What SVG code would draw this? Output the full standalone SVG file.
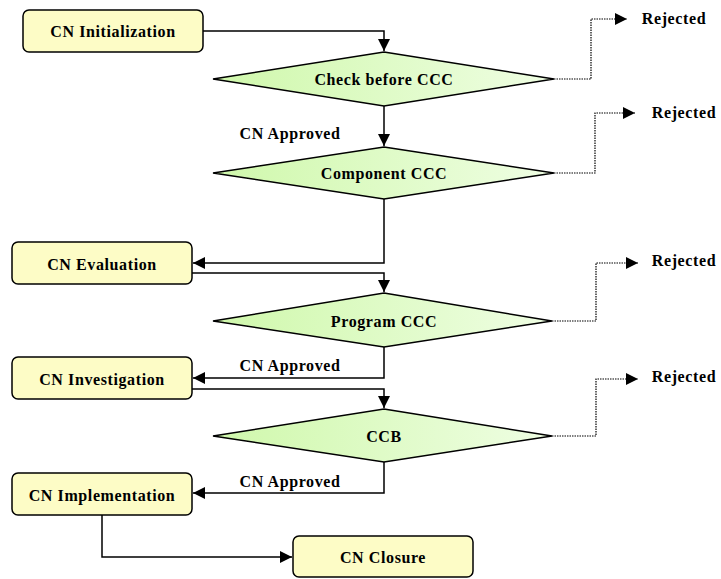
<svg xmlns="http://www.w3.org/2000/svg" width="721" height="579" viewBox="0 0 721 579">
<style>
.box{fill:#fdfcc6;stroke:#000;stroke-width:1.5}
.dia{fill:url(#g);stroke:#000;stroke-width:1.5}
.t{font-family:"Liberation Serif","Times New Roman",serif;font-weight:bold;font-size:16px;letter-spacing:0.6px;text-anchor:middle;dominant-baseline:central;fill:#000}
.ln{fill:none;stroke:#000;stroke-width:1.5}
.dot{fill:none;stroke:#000;stroke-width:1.2;stroke-dasharray:1.5 1}
</style>
<defs>
<linearGradient id="g" x1="0" y1="0" x2="1" y2="0">
<stop offset="0" stop-color="#cff8ab"/>
<stop offset="1" stop-color="#effee3"/>
</linearGradient>
<marker id="a" viewBox="0 0 10 10" refX="10" refY="5" markerWidth="12" markerHeight="12" markerUnits="userSpaceOnUse" orient="auto">
<path d="M0,0L10,5L0,10z" fill="#000"/>
</marker>
</defs>
<g id="connectors">
<path class="ln" d="M203,31H384V51" marker-end="url(#a)"/>
<path class="ln" d="M384,106V146" marker-end="url(#a)"/>
<path class="ln" d="M384,199V263H193" marker-end="url(#a)"/>
<path class="ln" d="M192,273H384V292" marker-end="url(#a)"/>
<path class="ln" d="M384,346V378H193" marker-end="url(#a)"/>
<path class="ln" d="M192,389H384V408" marker-end="url(#a)"/>
<path class="ln" d="M384,462V493H193" marker-end="url(#a)"/>
<path class="ln" d="M102,515V557H292" marker-end="url(#a)"/>
<path class="dot" d="M554,79H591V19H627" marker-end="url(#a)"/>
<path class="dot" d="M554,173H595V113H635" marker-end="url(#a)"/>
<path class="dot" d="M552,321H596V263H638" marker-end="url(#a)"/>
<path class="dot" d="M552,436H596V379H638" marker-end="url(#a)"/>
<text class="t" x="290" y="133">CN Approved</text>
<text class="t" x="290" y="365">CN Approved</text>
<text class="t" x="290" y="481">CN Approved</text>
<text class="t" x="674" y="18">Rejected</text>
<text class="t" x="684" y="112">Rejected</text>
<text class="t" x="684" y="260">Rejected</text>
<text class="t" x="684" y="376">Rejected</text>
</g>
<g id="n1"><rect class="box" x="23" y="10" width="180" height="42" rx="6"/><text class="t" x="113" y="31">CN Initialization</text></g>
<g id="n2"><polygon class="dia" points="384,52 554,79 384,106 213,79"/><text class="t" x="384" y="79">Check before CCC</text></g>
<g id="n3"><polygon class="dia" points="384,147 554,173 384,199 213,173"/><text class="t" x="384" y="173">Component CCC</text></g>
<g id="n4"><rect class="box" x="12" y="242" width="180" height="42" rx="6"/><text class="t" x="102" y="264">CN Evaluation</text></g>
<g id="n5"><polygon class="dia" points="384,293 552,321 384,347 213,321"/><text class="t" x="384" y="321">Program CCC</text></g>
<g id="n6"><rect class="box" x="12" y="357" width="180" height="42" rx="6"/><text class="t" x="102" y="379">CN Investigation</text></g>
<g id="n7"><polygon class="dia" points="384,409 552,436 384,462 213,436"/><text class="t" x="384" y="436">CCB</text></g>
<g id="n8"><rect class="box" x="12" y="473" width="180" height="42" rx="6"/><text class="t" x="102" y="495">CN Implementation</text></g>
<g id="n9"><rect class="box" x="293" y="536" width="180" height="41" rx="6"/><text class="t" x="383" y="557">CN Closure</text></g>
</svg>
